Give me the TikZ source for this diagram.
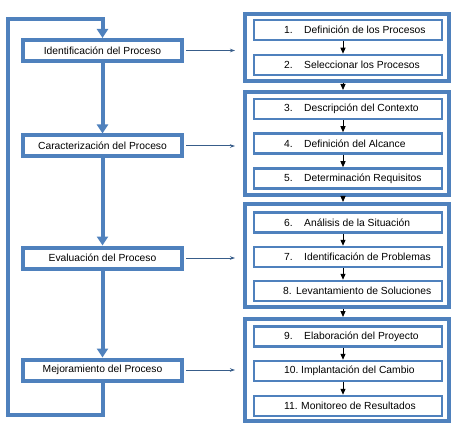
\documentclass[tikz,border=0pt]{standalone}
\usepackage{fontspec}
\setmainfont{Liberation Sans}
\usetikzlibrary{arrows.meta,calc}
\definecolor{mblue}{RGB}{79,129,189}
\definecolor{harr}{RGB}{56,93,138}
\tikzset{
  leftbox/.style={draw=mblue,line width=4pt,minimum width=159pt,minimum height=21pt,inner sep=0pt,font=\fontsize{10.3}{12}\selectfont,fill=white},
  groupbox/.style={draw=mblue,line width=4pt,minimum width=204pt,inner sep=0pt},
  innerbox/.style={draw=mblue,line width=2.5pt,minimum width=188pt,minimum height=20pt,inner sep=0pt},
  lbl/.style={anchor=west,inner sep=0pt,font=\fontsize{10.3}{12}\selectfont},
  bigarrow/.style={draw=mblue,line width=4pt,-{Triangle[width=11pt,length=9pt]}},
  smallarrow/.style={draw=black,line width=1pt,-{Triangle[width=5pt,length=6pt]}},
  harrow/.style={draw=harr,line width=1pt,-{Stealth[width=3.5pt,length=5pt]}},
}
\begin{document}
\begin{tikzpicture}[x=1pt,y=-1pt]
\useasboundingbox (0,0) rectangle (456,428);
% left boxes
\node[leftbox] (L1) at (102.5,50.5) {Identificación del Proceso};
\node[leftbox] (L2) at (102.5,146) {Caracterización del Proceso};
\node[leftbox] (L3) at (102.5,258) {Evaluación del Proceso};
\node[leftbox] (L4) at (102.5,370) {Mejoramiento del Proceso};
% groups
\node[groupbox,minimum height=67pt] (G1) at (347,47.5) {};
\node[groupbox,minimum height=103pt] (G2) at (347,143.5) {};
\node[groupbox,minimum height=103pt] (G3) at (347,255.5) {};
\node[groupbox,minimum height=102pt] (G4) at (347,370) {};
% inner boxes
\node[innerbox] (B1) at (348,30) {};
\node[innerbox] (B2) at (348,65) {};
\node[innerbox] (B3) at (348,109) {};
\node[innerbox] (B4) at (348,143.5) {};
\node[innerbox] (B5) at (348,178.5) {};
\node[innerbox] (B6) at (348,222.5) {};
\node[innerbox] (B7) at (348,257) {};
\node[innerbox] (B8) at (348,291) {};
\node[innerbox] (B9) at (348,336.5) {};
\node[innerbox] (B10) at (348,371) {};
\node[innerbox] (B11) at (348,406) {};
% labels
\node[lbl] (T1) at (284,30) {\makebox[20pt][l]{1.}Definición de los Procesos};
\node[lbl] (T2) at (284,65) {\makebox[20pt][l]{2.}Seleccionar los Procesos};
\node[lbl] (T3) at (284,109) {\makebox[20pt][l]{3.}Descripción del Contexto};
\node[lbl] (T4) at (284,143.5) {\makebox[20pt][l]{4.}Definición del Alcance};
\node[lbl] (T5) at (284,178.5) {\makebox[20pt][l]{5.}Determinación Requisitos};
\node[lbl] (T6) at (284,222.5) {\makebox[20pt][l]{6.}Análisis de la Situación};
\node[lbl] (T7) at (284,257) {\makebox[20pt][l]{7.}Identificación de Problemas};
\node[lbl] (T8) at (283,291) {\makebox[13pt][l]{8.}Levantamiento de Soluciones};
\node[lbl] (T9) at (284,336.5) {\makebox[20pt][l]{9.}Elaboración del Proyecto};
\node[lbl] (T10) at (284,371) {\makebox[17pt][l]{10.}Implantación del Cambio};
\node[lbl] (T11) at (284,406) {\makebox[17pt][l]{11.}Monitoreo de Resultados};
% left vertical arrows
\draw[bigarrow] (L1) -- (L2);
\draw[bigarrow] (L2) -- (L3);
\draw[bigarrow] (L3) -- (L4);
\coordinate (lb) at (7.5,415);
\coordinate (lt) at (7.5,19);
\draw[bigarrow,line join=miter] (L4.south) |- (lb) -- (lt) -| (L1.north);
% horizontal arrows
\draw[harrow] ([xshift=2pt]L1.east) -- ($(L1.east -| G1.west)+(-8,0)$);
\draw[harrow] ([xshift=2pt]L2.east) -- ($(L2.east -| G2.west)+(-8,0)$);
\draw[harrow] ([xshift=2pt]L3.east) -- ($(L3.east -| G3.west)+(-8,0)$);
\draw[harrow] ([xshift=2pt]L4.east) -- ($(L4.east -| G4.west)+(-8,0)$);
% small black arrows
\draw[smallarrow] ([xshift=-5pt]B1.south) -- ([xshift=-5pt]B2.north);
\draw[smallarrow] ([xshift=-4pt]G1.south) -- ([xshift=-4pt]G2.north);
\draw[smallarrow] ([xshift=-5pt]B3.south) -- ([xshift=-5pt]B4.north);
\draw[smallarrow] ([xshift=-5pt]B4.south) -- ([xshift=-5pt]B5.north);
\draw[smallarrow] ([xshift=-4pt]G2.south) -- ([xshift=-4pt]G3.north);
\draw[smallarrow] ([xshift=-5pt]B6.south) -- ([xshift=-5pt]B7.north);
\draw[smallarrow] ([xshift=-5pt]B7.south) -- ([xshift=-5pt]B8.north);
\draw[smallarrow] ([xshift=-4pt]G3.south) -- ([xshift=-4pt]G4.north);
\draw[smallarrow] ([xshift=-5pt]B9.south) -- ([xshift=-5pt]B10.north);
\draw[smallarrow] ([xshift=-5pt]B10.south) -- ([xshift=-5pt]B11.north);
\end{tikzpicture}
\end{document}
